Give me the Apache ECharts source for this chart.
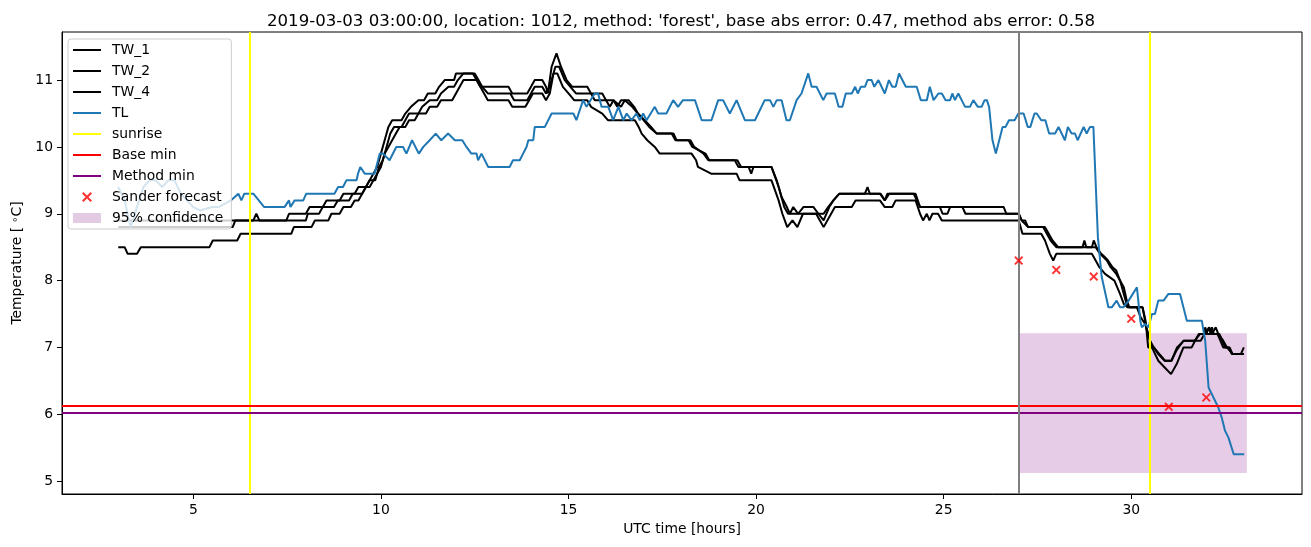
<!DOCTYPE html>
<html><head><meta charset="utf-8">
<script src="https://cdn.jsdelivr.net/npm/echarts@6/dist/echarts.min.js"></script>
<style>html,body{margin:0;padding:0;background:#fff}#c{width:1311px;height:547px}</style>
</head><body><div id="c"></div>
<script>
// ---- data (hour, temperature) ----
const tw1 = [[3.0,8.9],[6.6,8.9],[6.68,9.0],[6.76,8.9],[7.48,8.9],[7.55,9.0],[8.0,9.0],[8.1,9.1],[8.45,9.1],[8.55,9.2],[8.9,9.2],[9.0,9.3],[9.3,9.3],[9.4,9.4],[9.6,9.4],[9.7,9.5],[9.8,9.6],[9.9,9.7],[10.0,9.9],[10.1,10.1],[10.2,10.3],[10.3,10.4],[10.55,10.4],[10.65,10.5],[10.8,10.6],[11.0,10.7],[11.15,10.7],[11.25,10.8],[11.45,10.8],[11.55,10.9],[11.7,11.0],[11.95,11.0],[12.0,11.1],[12.45,11.1],[12.55,11.0],[12.65,10.9],[13.4,10.9],[13.5,10.8],[13.9,10.8],[14.0,10.9],[14.1,11.0],[14.3,11.0],[14.4,10.9],[14.45,10.8],[14.55,11.2],[14.68,11.4],[14.8,11.2],[14.95,11.0],[15.1,10.9],[15.5,10.9],[15.6,10.8],[15.9,10.8],[16.0,10.7],[16.2,10.7],[16.3,10.6],[16.4,10.7],[16.6,10.7],[16.75,10.6],[16.85,10.5],[17.03,10.4],[17.2,10.3],[17.35,10.2],[17.75,10.2],[17.85,10.1],[18.2,10.1],[18.3,10.0],[18.65,9.9],[18.75,9.8],[19.5,9.8],[19.6,9.7],[20.41,9.7],[20.55,9.5],[20.68,9.25],[20.82,9.1],[20.9,9.0],[20.99,9.1],[21.12,9.0],[21.26,9.1],[21.53,9.1],[21.66,9.0],[21.8,9.0],[21.92,9.1],[22.06,9.2],[22.22,9.3],[22.9,9.3],[22.97,9.4],[23.03,9.3],[23.3,9.3],[23.43,9.2],[23.5,9.3],[24.2,9.3],[24.37,9.1],[26.6,9.1],[26.67,9.0],[27.0,9.0],[27.08,8.9],[27.17,8.9],[27.25,8.8],[27.7,8.8],[27.8,8.7],[27.9,8.6],[28.05,8.5],[28.7,8.5],[28.75,8.6],[28.8,8.5],[28.95,8.5],[29.0,8.6],[29.07,8.5],[29.2,8.4],[29.3,8.35],[29.38,8.3],[29.5,8.2],[29.6,8.15],[29.7,8.0],[29.8,7.9],[29.88,7.7],[29.95,7.6],[30.3,7.6],[30.38,7.4],[30.45,7.0],[30.6,7.0],[30.72,6.9],[30.89,6.8],[31.07,6.8],[31.2,6.95],[31.39,7.1],[31.69,7.1],[31.83,7.2],[31.93,7.2],[31.97,7.3],[32.03,7.2],[32.1,7.2],[32.15,7.3],[32.2,7.2],[32.3,7.2],[32.45,7.0],[32.6,7.0],[32.68,6.9],[32.92,6.9],[33.0,7.0]];
const tw2 = [[3.0,8.8],[6.05,8.8],[6.12,8.9],[8.0,8.9],[8.05,9.0],[8.35,9.0],[8.45,9.1],[8.75,9.1],[8.85,9.2],[9.15,9.2],[9.25,9.3],[9.5,9.3],[9.6,9.4],[9.7,9.5],[9.85,9.5],[9.95,9.7],[10.05,9.8],[10.15,10.0],[10.25,10.2],[10.35,10.3],[10.55,10.3],[10.65,10.4],[10.75,10.5],[11.0,10.5],[11.1,10.6],[11.3,10.7],[11.5,10.7],[11.6,10.8],[11.8,10.9],[11.95,10.9],[12.05,11.0],[12.2,11.1],[12.5,11.1],[12.6,11.0],[12.7,10.9],[12.85,10.8],[13.45,10.8],[13.55,10.7],[13.9,10.7],[14.0,10.8],[14.1,10.9],[14.3,10.9],[14.4,10.8],[14.5,10.9],[14.65,11.2],[14.75,11.2],[14.9,11.0],[15.05,10.9],[15.2,10.8],[15.6,10.8],[15.7,10.7],[16.0,10.7],[16.1,10.6],[16.2,10.7],[16.4,10.6],[16.5,10.7],[16.7,10.6],[16.85,10.5],[17.0,10.4],[17.15,10.3],[17.35,10.2],[17.8,10.2],[17.88,10.1],[18.25,10.1],[18.35,10.0],[18.6,9.9],[18.73,9.8],[19.43,9.8],[19.53,9.7],[19.8,9.7],[19.87,9.6],[19.93,9.7],[20.41,9.7],[20.6,9.4],[20.75,9.1],[20.85,9.0],[21.66,9.0],[21.8,8.9],[21.95,9.1],[22.06,9.2],[22.22,9.3],[23.32,9.3],[23.43,9.2],[23.55,9.3],[24.25,9.3],[24.37,9.1],[24.9,9.1],[24.97,9.0],[25.1,9.0],[25.17,9.1],[25.5,9.1],[25.58,9.0],[27.0,9.0],[27.08,8.9],[27.25,8.8],[27.65,8.8],[27.75,8.7],[27.85,8.6],[28.0,8.5],[29.05,8.5],[29.17,8.4],[29.35,8.3],[29.45,8.2],[29.6,8.1],[29.7,8.0],[29.8,7.8],[29.9,7.6],[30.3,7.6],[30.4,7.3],[30.5,7.1],[30.6,7.0],[30.75,6.9],[30.9,6.8],[31.07,6.8],[31.22,7.0],[31.4,7.1],[31.7,7.1],[31.8,7.2],[32.0,7.2],[32.07,7.3],[32.12,7.2],[32.35,7.2],[32.5,7.0],[32.62,7.0],[32.7,6.9],[33.0,6.9]];
const tw4 = [[3.0,8.5],[3.17,8.5],[3.25,8.4],[3.5,8.4],[3.6,8.5],[5.43,8.5],[5.52,8.6],[6.17,8.6],[6.26,8.7],[7.61,8.7],[7.68,8.8],[8.15,8.8],[8.24,8.9],[8.6,8.9],[8.68,9.0],[8.9,9.0],[9.0,9.1],[9.2,9.1],[9.3,9.2],[9.4,9.2],[9.5,9.3],[9.6,9.4],[9.7,9.4],[9.8,9.5],[9.9,9.6],[10.0,9.7],[10.1,9.9],[10.2,10.0],[10.3,10.1],[10.4,10.2],[10.5,10.3],[10.65,10.3],[10.75,10.4],[10.9,10.4],[11.0,10.5],[11.2,10.5],[11.3,10.6],[11.5,10.6],[11.6,10.7],[11.9,10.7],[12.0,10.8],[12.1,10.9],[12.2,11.0],[12.55,11.0],[12.65,10.9],[12.75,10.8],[12.85,10.7],[13.4,10.7],[13.5,10.6],[13.85,10.6],[13.95,10.7],[14.05,10.8],[14.3,10.8],[14.4,10.7],[14.5,10.8],[14.6,11.1],[14.7,11.1],[14.85,10.9],[15.0,10.8],[15.15,10.7],[15.5,10.7],[15.6,10.6],[15.9,10.5],[16.05,10.4],[16.77,10.4],[16.87,10.3],[16.95,10.2],[17.1,10.1],[17.3,10.0],[17.43,9.9],[18.28,9.9],[18.4,9.8],[18.45,9.7],[18.8,9.6],[19.48,9.6],[19.56,9.5],[20.41,9.5],[20.6,9.2],[20.7,9.0],[20.83,8.8],[20.97,8.9],[21.1,8.8],[21.25,9.0],[21.6,9.0],[21.7,8.9],[21.8,8.8],[22.0,9.0],[22.1,9.1],[22.55,9.1],[22.65,9.2],[23.3,9.2],[23.43,9.1],[23.63,9.1],[23.72,9.2],[24.25,9.2],[24.37,9.0],[24.45,8.9],[24.55,9.0],[24.62,8.9],[24.7,9.0],[24.85,9.0],[24.95,8.9],[27.0,8.9],[27.1,8.7],[27.6,8.7],[27.7,8.6],[27.83,8.4],[27.92,8.3],[28.0,8.4],[28.95,8.4],[29.05,8.3],[29.15,8.2],[29.3,8.1],[29.55,8.0],[29.7,7.8],[29.8,7.65],[29.9,7.6],[30.15,7.6],[30.25,7.45],[30.37,7.35],[30.45,7.2],[30.55,7.0],[30.72,6.8],[30.89,6.7],[31.06,6.6],[31.21,6.75],[31.39,7.0],[31.61,7.0],[31.7,7.1],[31.85,7.1],[31.95,7.2],[32.0,7.2],[32.08,7.3],[32.15,7.2],[32.25,7.3],[32.32,7.2],[32.45,7.1],[32.55,7.0],[32.7,6.9],[33.0,6.9]];
const tl = [[3.0,9.4],[3.17,9.2],[3.33,8.8],[3.5,9.1],[3.67,9.4],[3.83,9.5],[4.0,9.5],[4.17,9.4],[4.33,9.5],[4.5,9.5],[4.67,9.3],[4.83,9.2],[5.0,9.1],[5.17,9.05],[5.5,9.1],[5.67,9.1],[6.0,9.2],[6.2,9.3],[6.28,9.2],[6.36,9.3],[6.6,9.3],[6.89,9.1],[7.43,9.1],[7.55,9.2],[7.59,9.1],[7.7,9.2],[7.93,9.2],[8.01,9.3],[8.76,9.3],[8.86,9.4],[8.99,9.4],[9.08,9.5],[9.35,9.5],[9.39,9.6],[9.45,9.7],[9.57,9.6],[9.83,9.6],[9.97,9.9],[10.06,9.9],[10.23,9.8],[10.41,10.0],[10.59,10.0],[10.68,9.9],[10.83,10.1],[11.01,9.9],[11.13,10.0],[11.3,10.1],[11.46,10.2],[11.61,10.1],[11.79,10.2],[11.97,10.1],[12.17,10.1],[12.28,10.0],[12.41,9.9],[12.55,9.9],[12.59,9.8],[12.68,9.9],[12.86,9.7],[13.43,9.7],[13.52,9.8],[13.7,9.8],[13.79,9.9],[13.88,10.0],[13.93,10.1],[14.06,10.1],[14.1,10.3],[14.37,10.3],[14.55,10.5],[15.13,10.5],[15.21,10.4],[15.39,10.7],[15.48,10.6],[15.7,10.8],[15.79,10.8],[15.88,10.6],[16.06,10.6],[16.19,10.4],[16.33,10.6],[16.46,10.4],[16.55,10.5],[16.68,10.4],[16.81,10.5],[16.9,10.4],[16.99,10.5],[17.08,10.4],[17.3,10.6],[17.39,10.5],[17.61,10.5],[17.79,10.7],[17.92,10.6],[18.05,10.7],[18.37,10.7],[18.55,10.4],[18.81,10.4],[18.99,10.7],[19.12,10.7],[19.3,10.5],[19.48,10.7],[19.7,10.4],[19.97,10.4],[20.23,10.7],[20.37,10.7],[20.46,10.6],[20.55,10.7],[20.68,10.7],[20.81,10.4],[20.9,10.4],[21.08,10.7],[21.21,10.8],[21.39,11.1],[21.48,10.9],[21.61,10.9],[21.79,10.7],[21.88,10.8],[22.1,10.8],[22.2,10.6],[22.3,10.6],[22.39,10.8],[22.55,10.8],[22.64,10.9],[22.71,10.8],[22.79,10.9],[22.9,10.9],[22.97,11.0],[23.08,11.0],[23.15,10.9],[23.26,11.0],[23.43,10.8],[23.54,11.0],[23.63,10.9],[23.72,10.9],[23.81,11.1],[23.99,10.9],[24.28,10.9],[24.39,10.7],[24.55,10.7],[24.63,10.9],[24.73,10.7],[24.86,10.8],[24.95,10.8],[25.05,10.7],[25.17,10.7],[25.23,10.8],[25.3,10.7],[25.39,10.8],[25.57,10.6],[25.7,10.6],[25.79,10.7],[25.91,10.6],[26.01,10.6],[26.09,10.7],[26.15,10.7],[26.21,10.6],[26.3,10.1],[26.39,9.9],[26.57,10.3],[26.65,10.3],[26.74,10.4],[26.89,10.4],[26.99,10.5],[27.13,10.5],[27.24,10.3],[27.31,10.3],[27.42,10.5],[27.48,10.5],[27.6,10.4],[27.71,10.4],[27.81,10.2],[27.97,10.2],[28.06,10.3],[28.23,10.1],[28.31,10.3],[28.41,10.2],[28.5,10.2],[28.57,10.1],[28.73,10.3],[28.81,10.2],[28.9,10.3],[28.99,10.3],[29.11,8.65],[29.21,8.06],[29.39,7.6],[29.48,7.6],[29.61,7.7],[29.7,7.6],[29.79,7.6],[29.93,7.7],[30.15,7.9],[30.24,7.4],[30.28,7.3],[30.37,7.35],[30.46,7.3],[30.55,7.5],[30.63,7.5],[30.72,7.7],[30.86,7.7],[30.99,7.8],[31.3,7.8],[31.48,7.4],[31.88,7.4],[31.97,7.1],[32.06,6.4],[32.19,6.25],[32.32,6.1],[32.41,5.95],[32.5,5.75],[32.59,5.65],[32.73,5.4],[33.01,5.4]];
const sunriseHours = [6.5, 30.5];
const forecastStartHour = 27.0;
const baseMin = 6.12;
const methodMin = 6.02;
const sanderHours = [27, 28, 29, 30, 31, 32];
const sanderValues = [8.30, 8.16, 8.06, 7.43, 6.11, 6.25];
const confHours = [27.0, 33.08];
const confBounds = [5.12, 7.21];
const xTickLabels = [5, 10, 15, 20, 25, 30];
const yTickLabels = [5, 6, 7, 8, 9, 10, 11];

const font = 'DejaVu Sans';
const lineIcon = 'path://M0,0L0.01,0L0,0.01Z M0,4L28,4L28,6L0,6Z M28,10L27.99,10L28,9.99Z';
const xIcon = 'path://M0,1.5L1.5,0L5,3.5L8.5,0L10,1.5L6.5,5L10,8.5L8.5,10L5,6.5L1.5,10L0,8.5L3.5,5Z';

function lineS(name, data, color, z) {
  return {name, type:'line', data, symbol:'none', z, lineStyle:{color, width:2}, itemStyle:{color}, emphasis:{disabled:true}};
}
function mark(name, color, items) {
  return {name, type:'line', data:[], symbol:'none', itemStyle:{color}, lineStyle:{color, width:2},
    markLine:{silent:true, symbol:['none','none'], label:{show:false}, animation:false,
      lineStyle:{color, width:2, type:'solid'}, emphasis:{disabled:true}, data:items}};
}
const fmt = list => v => list.indexOf(Math.round(v*1000)/1000) >= 0 ? String(Math.round(v)) : '';

const chart = echarts.init(document.getElementById('c'));
chart.setOption({
  animation:false,
  title:{text:"2019-03-03 03:00:00, location: 1012, method: 'forest', base abs error: 0.47, method abs error: 0.58",
    left:676, textAlign:'center', top:8, textStyle:{fontFamily:font, fontSize:16.6, fontWeight:'normal', color:'#000'}},
  grid:{left:62, right:9, top:32, bottom:53, show:true, borderColor:'#000', borderWidth:1},
  xAxis:{type:'value', min:1.5, max:34.55, splitLine:{show:false},
    axisLine:{show:true, onZero:false, lineStyle:{color:'#000', width:1}},
    axisTick:{show:true, length:5, lineStyle:{color:'#000', width:1}, customValues:xTickLabels},
    axisLabel:{color:'#000', fontFamily:font, fontSize:13.9, margin:9, customValues:xTickLabels, formatter:fmt(xTickLabels)},
    name:'UTC time [hours]', nameLocation:'middle', nameGap:28,
    nameTextStyle:{color:'#000', fontFamily:font, fontSize:13.9}},
  yAxis:{type:'value', min:4.806, max:11.72, splitLine:{show:false},
    axisLine:{show:true, onZero:false, lineStyle:{color:'#000', width:1}},
    axisTick:{show:true, length:5, lineStyle:{color:'#000', width:1}, customValues:yTickLabels},
    axisLabel:{color:'#000', fontFamily:font, fontSize:13.9, margin:9, customValues:yTickLabels, formatter:fmt(yTickLabels)},
    name:'Temperature [{s|∘}C]', nameLocation:'middle', nameGap:36,
    nameTextStyle:{color:'#000', fontFamily:font, fontSize:13.9,
      rich:{s:{fontSize:10, fontFamily:font, color:'#000', verticalAlign:'top', padding:[0,0,0,4]}}}},
  legend:{left:68, top:39, orient:'vertical', itemWidth:28, itemHeight:10, itemGap:7, z:20, zlevel:0,
    padding:[4,8,4,5], backgroundColor:'rgba(255,255,255,0.8)', borderColor:'#cccccc', borderWidth:1, borderRadius:3,
    selectedMode:false,
    textStyle:{fontFamily:font, fontSize:13.9, color:'#000', padding:[0,0,0,6]},
    data:[{name:'TW_1', icon:lineIcon},{name:'TW_2', icon:lineIcon},{name:'TW_4', icon:lineIcon},{name:'TL', icon:lineIcon},
      {name:'sunrise', icon:lineIcon},{name:'Base min', icon:lineIcon},{name:'Method min', icon:lineIcon},
      {name:'Sander forecast', icon:xIcon},{name:'95% confidence', icon:'rect'}]},
  series:[
    lineS('TW_1', tw1, '#000000', 3),
    lineS('TW_2', tw2, '#000000', 3),
    lineS('TW_4', tw4, '#000000', 3),
    lineS('TL', tl, '#1f77b4', 4),
    mark('sunrise', '#ffff00', sunriseHours.map(h => ({xAxis:h}))),
    mark('Base min', '#ff0000', [{yAxis:baseMin}]),
    mark('Method min', '#800080', [{yAxis:methodMin}]),
    mark('forecast start', '#808080', [{xAxis:forecastStartHour}]),
    {name:'Sander forecast', type:'scatter', symbol:xIcon, symbolSize:9, symbolKeepAspect:true, z:6,
      itemStyle:{color:'#ff0000'}, emphasis:{disabled:true},
      data:sanderHours.map((h,i) => [h, sanderValues[i]])},
    {name:'95% confidence', type:'line', data:[], symbol:'none', z:1, itemStyle:{color:'#e3cce3'},
      markArea:{silent:true, itemStyle:{color:'rgba(128,0,128,0.2)'}, label:{show:false}, emphasis:{disabled:true},
        data:[[{coord:[confHours[0], confBounds[0]]},{coord:[confHours[1], confBounds[1]]}]]}}
  ]
});
</script></body></html>
